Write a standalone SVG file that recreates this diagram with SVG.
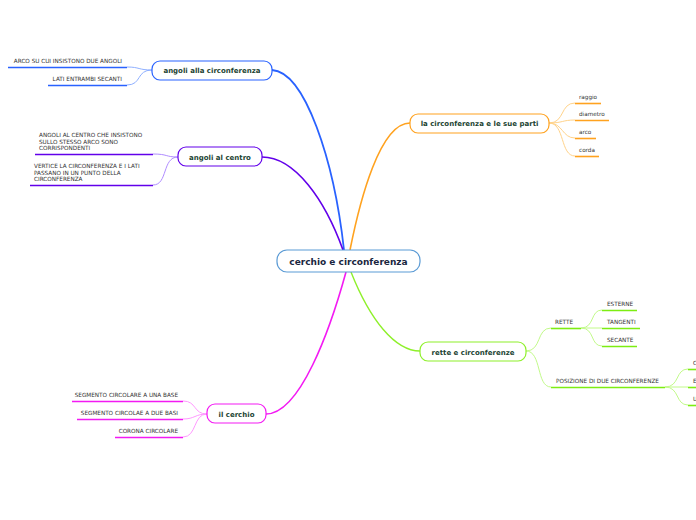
<svg xmlns="http://www.w3.org/2000/svg" width="696" height="520" viewBox="0 0 696 520">
<style>
.node rect{fill:#fff;stroke-width:1.2}
.nt{font-family:"DejaVu Sans",Verdana,sans-serif;font-weight:bold;font-size:7px;fill:#1b4332;text-anchor:middle}
.ct{font-family:"DejaVu Sans",Verdana,sans-serif;font-weight:bold;font-size:9px;fill:#1a2640;text-anchor:middle}
.st{font-family:"DejaVu Sans",Verdana,sans-serif;font-size:5.7px;fill:#333}
.r{text-anchor:end}
.c path{fill:none}
.ul{stroke-width:1.6}
</style>
<rect width="696" height="520" fill="#fff"/>
<g id="connectors" class="c">
  <path d="M344,250 C334,160 305,72 272,70" stroke="#2962ff" stroke-width="1.8"/>
  <path d="M343,250 C325,200 295,157 262,157" stroke="#6200ea" stroke-width="1.6"/>
  <path d="M350,250 C360,200 380,123 410,123" stroke="#ffa21f" stroke-width="1.6"/>
  <path d="M351,272 C370,320 395,351 420,351" stroke="#8ef02a" stroke-width="1.4"/>
  <path d="M346,272 C330,330 300,414 266,414" stroke="#f31af3" stroke-width="1.6"/>
  <path d="M152,70 C138,70 140,67 127,67" stroke="#8fb0ff"/>
  <path d="M152,70 C136,70 142,85 127,85" stroke="#8fb0ff"/>
  <line class="ul" x1="8" y1="67.5" x2="127" y2="67.5" stroke="#2962ff"/>
  <line class="ul" x1="48" y1="85.5" x2="127" y2="85.5" stroke="#2962ff"/>
  <path d="M178,157 C165,157 168,154 153,154" stroke="#b08cff"/>
  <path d="M178,157 C162,157 168,185 153,185" stroke="#b08cff"/>
  <line class="ul" x1="35" y1="154.5" x2="153" y2="154.5" stroke="#6200ea"/>
  <line class="ul" x1="30" y1="185.5" x2="153" y2="185.5" stroke="#6200ea"/>
  <path d="M549,123 C565,123 560,103 575,103" stroke="#ffd38a"/>
  <path d="M549,123 C563,123 562,120 575,120" stroke="#ffd38a"/>
  <path d="M549,123 C563,123 562,138 575,138" stroke="#ffd38a"/>
  <path d="M549,123 C565,123 560,156 575,156" stroke="#ffd38a"/>
  <line class="ul" x1="575" y1="103.5" x2="601" y2="103.5" stroke="#ffa21f"/>
  <line class="ul" x1="575" y1="120.5" x2="609" y2="120.5" stroke="#ffa21f"/>
  <line class="ul" x1="575" y1="138.5" x2="596" y2="138.5" stroke="#ffa21f"/>
  <line class="ul" x1="575" y1="156.5" x2="599" y2="156.5" stroke="#ffa21f"/>
  <path d="M526,351 C542,351 536,328 551,328" stroke="#c2fa8a"/>
  <path d="M526,351 C542,351 536,387 551,387" stroke="#c2fa8a"/>
  <line class="ul" x1="551" y1="328.5" x2="581" y2="328.5" stroke="#7ded12"/>
  <line class="ul" x1="551" y1="387.5" x2="665" y2="387.5" stroke="#7ded12"/>
  <path d="M581,328 C595,328 590,310 602,310" stroke="#c2fa8a"/>
  <path d="M581,328 L602,328" stroke="#c2fa8a"/>
  <path d="M581,328 C595,328 590,346 602,346" stroke="#c2fa8a"/>
  <line class="ul" x1="602" y1="310.5" x2="637" y2="310.5" stroke="#7ded12"/>
  <line class="ul" x1="602" y1="328.5" x2="640" y2="328.5" stroke="#7ded12"/>
  <line class="ul" x1="602" y1="346.5" x2="637" y2="346.5" stroke="#7ded12"/>
  <path d="M665,387 C680,387 675,369 688,369" stroke="#c2fa8a"/>
  <path d="M665,387 L688,387" stroke="#c2fa8a"/>
  <path d="M665,387 C680,387 675,405 688,405" stroke="#c2fa8a"/>
  <line class="ul" x1="688" y1="369.5" x2="696" y2="369.5" stroke="#7ded12"/>
  <line class="ul" x1="688" y1="387.5" x2="696" y2="387.5" stroke="#7ded12"/>
  <line class="ul" x1="688" y1="405.5" x2="696" y2="405.5" stroke="#7ded12"/>
  <path d="M207,414 C193,414 197,401 183,401" stroke="#ff99ff"/>
  <path d="M207,414 C195,414 195,419 183,419" stroke="#ff99ff"/>
  <path d="M207,414 C193,414 197,437 183,437" stroke="#ff99ff"/>
  <line class="ul" x1="72" y1="401.5" x2="183" y2="401.5" stroke="#f31af3"/>
  <line class="ul" x1="77" y1="419.5" x2="183" y2="419.5" stroke="#f31af3"/>
  <line class="ul" x1="115" y1="437.5" x2="183" y2="437.5" stroke="#f31af3"/>
</g>
<g id="center" class="node"><rect x="277" y="250" width="143" height="22" rx="10" stroke="#5b9bd5"/><text class="ct" x="348.5" y="264.5">cerchio e circonferenza</text></g>
<g id="n-angoli-circ" class="node"><rect x="152" y="61" width="120" height="19" rx="8" stroke="#2962ff"/><text class="nt" x="212" y="73">angoli alla circonferenza</text></g>
<g id="n-angoli-centro" class="node"><rect x="178" y="147" width="84" height="19" rx="8" stroke="#6200ea"/><text class="nt" x="220" y="159.5">angoli al centro</text></g>
<g id="n-parti" class="node"><rect x="410" y="114" width="139" height="19" rx="8" stroke="#ffa21f"/><text class="nt" x="479.5" y="126">la circonferenza e le sue parti</text></g>
<g id="n-rette" class="node"><rect x="420" y="342" width="106" height="19" rx="8" stroke="#8ef02a"/><text class="nt" x="473" y="354.5">rette e circonferenze</text></g>
<g id="n-cerchio" class="node"><rect x="207" y="404" width="59" height="19" rx="8" stroke="#f31af3"/><text class="nt" x="236.5" y="416.5">il cerchio</text></g>
<g id="s-arco"><text class="st r" x="122" y="63">ARCO SU CUI INSISTONO DUE ANGOLI</text></g>
<g id="s-lati"><text class="st r" x="122" y="81">LATI ENTRAMBI SECANTI</text></g>
<g id="s-angcentro"><text class="st" x="39" y="137">ANGOLI AL CENTRO CHE INSISTONO</text><text class="st" x="39" y="143.5">SULLO STESSO ARCO SONO</text><text class="st" x="39" y="150">CORRISPONDENTI</text></g>
<g id="s-vertice"><text class="st" x="34" y="168">VERTICE LA CIRCONFERENZA E I LATI</text><text class="st" x="34" y="174.5">PASSANO IN UN PUNTO DELLA</text><text class="st" x="34" y="181">CIRCONFERENZA</text></g>
<g id="s-raggio"><text class="st" x="579" y="99">raggio</text></g>
<g id="s-diametro"><text class="st" x="579" y="116">diametro</text></g>
<g id="s-arco2"><text class="st" x="579" y="134">arco</text></g>
<g id="s-corda"><text class="st" x="579" y="152">corda</text></g>
<g id="s-rette"><text class="st" x="555" y="324">RETTE</text></g>
<g id="s-esterne"><text class="st" x="607" y="306">ESTERNE</text></g>
<g id="s-tangenti"><text class="st" x="607" y="324">TANGENTI</text></g>
<g id="s-secante"><text class="st" x="607" y="342">SECANTE</text></g>
<g id="s-posizione"><text class="st" x="556" y="383">POSIZIONE DI DUE CIRCONFERENZE</text></g>
<g id="s-c"><text class="st" x="693" y="365">C</text></g>
<g id="s-e"><text class="st" x="693" y="383">E</text></g>
<g id="s-u"><text class="st" x="693" y="401">U</text></g>
<g id="s-seg1"><text class="st r" x="178" y="397">SEGMENTO CIRCOLARE A UNA BASE</text></g>
<g id="s-seg2"><text class="st r" x="178" y="415">SEGMENTO CIRCOLAE A DUE BASI</text></g>
<g id="s-corona"><text class="st r" x="178" y="433">CORONA CIRCOLARE</text></g>
</svg>
